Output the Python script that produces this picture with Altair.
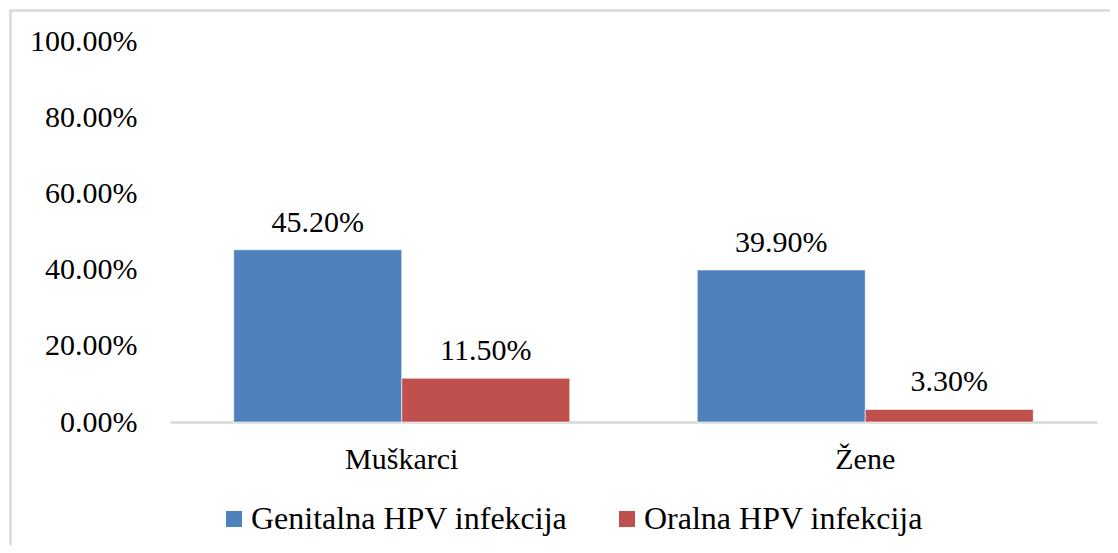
import altair as alt
import pandas as pd

groups = ["Muškarci", "Žene"]
series = ["Genitalna HPV infekcija", "Oralna HPV infekcija"]
genitalna = [0.452, 0.399]
oralna = [0.115, 0.033]
colors = ["#4F81BD", "#C0504D"]

rows = []
for i, g in enumerate(groups):
    rows.append({"grupa": g, "serija": series[0], "vrijednost": genitalna[i]})
    rows.append({"grupa": g, "serija": series[1], "vrijednost": oralna[i]})
df = pd.DataFrame(rows)

FONT = "Times New Roman, Liberation Serif, DejaVu Serif, serif"

x_enc = alt.X("grupa:N", sort=groups, title=None,
              scale=alt.Scale(paddingInner=0.275, paddingOuter=0.1375),
              axis=alt.Axis(labelAngle=0, labelFont=FONT, labelFontSize=30,
                            labelColor="black", labelPadding=22, ticks=False,
                            domainColor="#d9d9d9", domainWidth=2.5))
y_enc = alt.Y("vrijednost:Q", title=None,
              scale=alt.Scale(domain=[0, 1]),
              axis=alt.Axis(format=".2%", values=[0, 0.2, 0.4, 0.6, 0.8, 1.0],
                            labelFont=FONT, labelFontSize=30, labelColor="black",
                            labelPadding=33, ticks=False, domain=False, grid=False))

base = alt.Chart(df)

bars = base.mark_bar(stroke="white", strokeWidth=0.6).encode(
    x=x_enc,
    xOffset=alt.XOffset("serija:N", sort=series, scale=alt.Scale(paddingInner=0, paddingOuter=0)),
    y=y_enc,
    color=alt.Color("serija:N", sort=series,
                    scale=alt.Scale(domain=series, range=colors),
                    legend=alt.Legend(title=None, orient="none", legendX=48, legendY=462,
                                      padding=0, direction="horizontal", symbolType="square",
                                      symbolSize=256, symbolStrokeWidth=0,
                                      labelFont=FONT, labelFontSize=32, labelColor="black",
                                      labelOffset=1, columnPadding=43, labelLimit=600)),
)

labels = base.mark_text(font=FONT, fontSize=30, color="black", baseline="alphabetic", dy=-18).encode(
    x=alt.X("grupa:N", sort=groups),
    xOffset=alt.XOffset("serija:N", sort=series),
    y="vrijednost:Q",
    text=alt.Text("vrijednost:Q", format=".2%"),
)

border = alt.Chart(pd.DataFrame({"a": [0]})).mark_rect(
    fill="transparent", stroke="#d9d9d9", strokeWidth=2.5
).encode(x=alt.value(-159.5), y=alt.value(-30.5), x2=alt.value(1000), y2=alt.value(700))

chart = alt.layer(border, bars, labels).properties(
    width=927, height=381,
    background="white",
    autosize=alt.AutoSizeParams(type="none"),
    padding={"left": 162, "top": 33, "right": 13, "bottom": 123},
).configure_view(strokeWidth=0, stroke=None)

chart.save("out.html", embed_options={"renderer": "svg", "actions": False})
